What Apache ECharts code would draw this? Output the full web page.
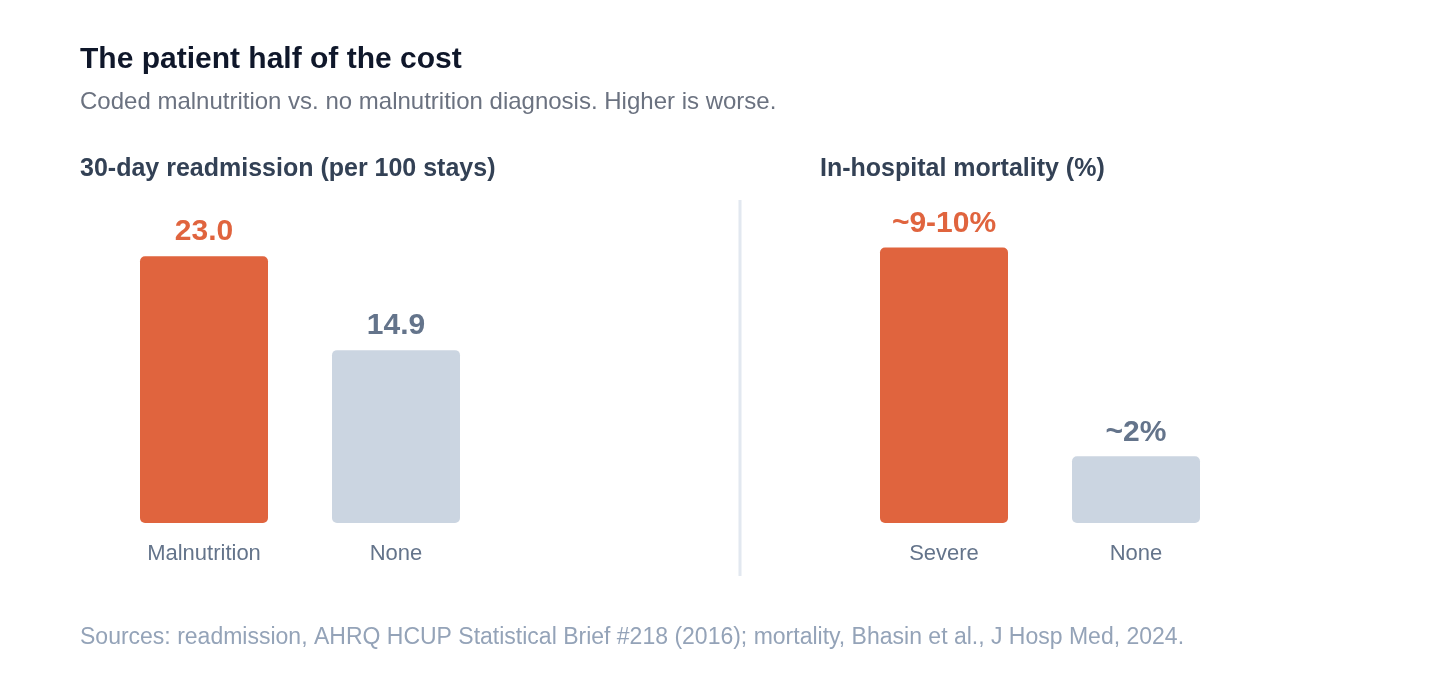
<!DOCTYPE html>
<html>
	<head>
		<meta charset="utf-8" />
		<title>The patient half of the cost</title>
		<script src="https://cdn.jsdelivr.net/npm/echarts@6/dist/echarts.min.js"></script>
		<style>
			html, body { margin: 0; padding: 0; background: #fff; }
		</style>
	</head>

	<body>
		<div id="main" style="width: 1440px;height:680px;"></div>
		<script type="text/javascript">
			// readmission panel
			var readmitCats = ['Malnutrition', 'None'];
			var readmitValues = [23.0, 14.9];
			var readmitLabels = ['23.0', '14.9'];
			// mortality panel (labels are approximate ranges in the source)
			var mortCats = ['Severe', 'None'];
			var mortValues = [9.5, 2.3];
			var mortLabels = ['~9-10%', '~2%'];

			var orange = '#e0643e';
			var grey = '#cbd5e1';
			var greyText = '#64748b';
			var font = '"Liberation Sans", Arial, Helvetica, sans-serif';

			var myChart = echarts.init(document.getElementById('main'));

			function barData(values, labels) {
				return values.map(function (v, i) {
					var c = i === 0 ? orange : grey;
					var tc = i === 0 ? orange : greyText;
					return {
						value: v,
						itemStyle: { color: c, borderRadius: 5 },
						label: { formatter: labels[i], color: tc }
					};
				});
			}

			var catAxis = function (cats, gi) {
				return {
					type: 'category',
					gridIndex: gi,
					data: cats,
					axisLine: { show: false },
					axisTick: { show: false },
					axisLabel: { color: greyText, fontSize: 22, fontFamily: font, margin: 20 }
				};
			};
			var valAxis = function (max, gi) {
				return {
					type: 'value',
					gridIndex: gi,
					min: 0,
					max: max,
					show: false
				};
			};

			var option = {
				animation: false,
				backgroundColor: '#ffffff',
				title: [
					{
						text: 'The patient half of the cost',
						left: 80, top: 45, padding: 0,
						textStyle: { color: '#0f172a', fontSize: 30, fontWeight: 'bold', fontFamily: font }
					},
					{
						text: 'Coded malnutrition vs. no malnutrition diagnosis. Higher is worse.',
						left: 80, top: 90, padding: 0,
						textStyle: { color: '#6b7280', fontSize: 24, fontWeight: 'normal', fontFamily: font }
					},
					{
						text: '30-day readmission (per 100 stays)',
						left: 80, top: 157, padding: 0,
						textStyle: { color: '#334155', fontSize: 25, fontWeight: 'bold', fontFamily: font }
					},
					{
						text: 'In-hospital mortality (%)',
						left: 820, top: 157, padding: 0,
						textStyle: { color: '#334155', fontSize: 25, fontWeight: 'bold', fontFamily: font }
					},
					{
						text: 'Sources: readmission, AHRQ HCUP Statistical Brief #218 (2016); mortality, Bhasin et al., J Hosp Med, 2024.',
						left: 80, top: 626, padding: 0,
						textStyle: { color: '#94a3b8', fontSize: 23, fontWeight: 'normal', fontFamily: font }
					}
				],
				grid: [
					{ left: 108, width: 384, top: 233, height: 290 },
					{ left: 848, width: 384, top: 233, height: 290 }
				],
				xAxis: [catAxis(readmitCats, 0), catAxis(mortCats, 1)],
				yAxis: [valAxis(25, 0), valAxis(10, 1)],
				graphic: [
					{
						type: 'line',
						shape: { x1: 740, y1: 200, x2: 740, y2: 576 },
						style: { stroke: '#e2e8f0', lineWidth: 3 }
					}
				],
				series: [
					{
						type: 'bar',
						xAxisIndex: 0,
						yAxisIndex: 0,
						barWidth: 128,
						data: barData(readmitValues, readmitLabels),
						label: { show: true, position: 'top', distance: 9, fontSize: 30, fontWeight: 'bold', fontFamily: font }
					},
					{
						type: 'bar',
						xAxisIndex: 1,
						yAxisIndex: 1,
						barWidth: 128,
						data: barData(mortValues, mortLabels),
						label: { show: true, position: 'top', distance: 9, fontSize: 30, fontWeight: 'bold', fontFamily: font }
					}
				]
			};
			myChart.setOption(option);
		</script>
	</body>
</html>
